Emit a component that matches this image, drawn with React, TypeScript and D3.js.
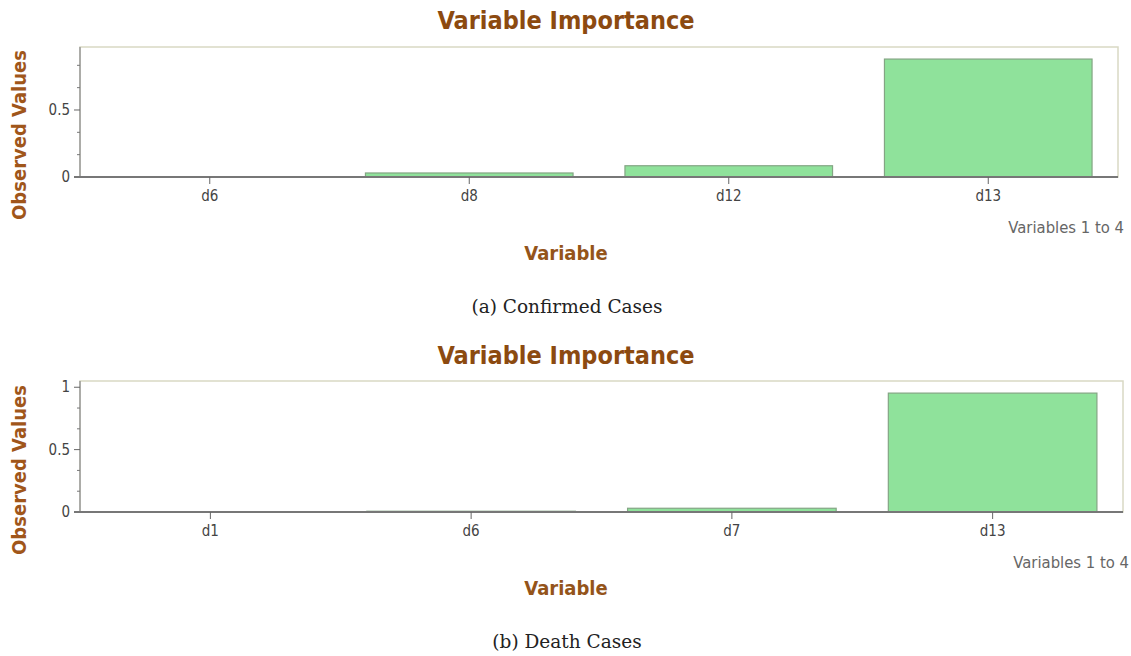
import React, { useEffect, useRef } from "react";
import * as d3 from "d3";

// Variable importance, confirmed cases
const confirmedVars = ["d6", "d8", "d12", "d13"];
const confirmedValues = [0.002, 0.03, 0.084, 0.88];

// Variable importance, death cases
const deathVars = ["d1", "d6", "d7", "d13"];
const deathValues = [0.001, 0.006, 0.03, 0.953];

const yMajorTicks = [0, 0.5, 1];

const TITLE = "Variable Importance";
const X_TITLE = "Variable";
const Y_TITLE = "Observed Values";
const FOOTNOTE = "Variables 1 to 4";

const BROWN = "#8c4a10";
const FONT = "'DejaVu Sans Condensed', 'DejaVu Sans', sans-serif";

type PanelSpec = {
  top: number;
  vars: string[];
  values: number[];
  yMax: number;
  plot: { left: number; right: number; top: number; bottom: number };
  caption: string;
};

const panels: PanelSpec[] = [
  {
    top: 0,
    vars: confirmedVars,
    values: confirmedValues,
    yMax: 0.97,
    plot: { left: 80, right: 1118, top: 47, bottom: 177 },
    caption: "(a) Confirmed Cases",
  },
  {
    top: 335,
    vars: deathVars,
    values: deathValues,
    yMax: 1.05,
    plot: { left: 80, right: 1123, top: 46, bottom: 177 },
    caption: "(b) Death Cases",
  },
];

function drawPanel(g: d3.Selection<SVGGElement, unknown, null, undefined>, p: PanelSpec) {
  const { left, right, top, bottom } = p.plot;
  const x = d3.scaleBand<string>().domain(p.vars).range([left, right]).paddingInner(0.2).paddingOuter(0.1);
  const y = d3.scaleLinear().domain([0, p.yMax]).range([bottom, top]);
  const cx = (v: string) => (x(v) as number) + x.bandwidth() / 2;

  // chart title
  g.append("text")
    .attr("x", 566)
    .attr("y", 29)
    .attr("text-anchor", "middle")
    .attr("font-family", FONT)
    .attr("font-weight", "bold")
    .attr("font-size", 25)
    .attr("fill", BROWN)
    .text(TITLE);

  // plot frame
  g.append("rect")
    .attr("x", left)
    .attr("y", top)
    .attr("width", right - left)
    .attr("height", bottom - top)
    .attr("fill", "#ffffff")
    .attr("stroke", "#d9d9c4")
    .attr("stroke-width", 1.5);

  // bars
  g.selectAll("rect.bar")
    .data(p.vars.map((v, i) => ({ v, val: p.values[i] })))
    .join("rect")
    .attr("class", "bar")
    .attr("x", (d) => x(d.v) as number)
    .attr("width", x.bandwidth())
    .attr("y", (d) => y(d.val))
    .attr("height", (d) => bottom - y(d.val))
    .attr("fill", "#8fe29b")
    .attr("stroke", "#84a584")
    .attr("stroke-width", 1.2);

  // y axis line
  g.append("line")
    .attr("x1", left)
    .attr("x2", left)
    .attr("y1", top)
    .attr("y2", bottom)
    .attr("stroke", "#9a9a9a")
    .attr("stroke-width", 1.5);

  // minor y ticks (thirds of each half unit)
  const minor = d3.range(0, p.yMax + 1e-9, 0.5 / 3).filter(
    (t) => !yMajorTicks.some((m) => Math.abs(m - t) < 1e-6)
  );
  g.selectAll("line.minor")
    .data(minor)
    .join("line")
    .attr("class", "minor")
    .attr("x1", left - 3)
    .attr("x2", left)
    .attr("y1", (d) => y(d))
    .attr("y2", (d) => y(d))
    .attr("stroke", "#777")
    .attr("stroke-width", 1);

  const majors = yMajorTicks.filter((t) => t <= p.yMax);
  g.selectAll("line.major")
    .data(majors)
    .join("line")
    .attr("class", "major")
    .attr("x1", left - 6)
    .attr("x2", left)
    .attr("y1", (d) => y(d))
    .attr("y2", (d) => y(d))
    .attr("stroke", "#666")
    .attr("stroke-width", 1);

  g.selectAll("text.ytick")
    .data(majors)
    .join("text")
    .attr("class", "ytick")
    .attr("x", left - 10)
    .attr("y", (d) => y(d))
    .attr("dy", "0.35em")
    .attr("text-anchor", "end")
    .attr("font-family", FONT)
    .attr("font-size", 15)
    .attr("fill", "#444")
    .text((d) => d3.format("~g")(d));

  // x axis baseline
  g.append("line")
    .attr("x1", left - 6)
    .attr("x2", right)
    .attr("y1", bottom)
    .attr("y2", bottom)
    .attr("stroke", "#777")
    .attr("stroke-width", 2.2);

  g.selectAll("line.xtick")
    .data(p.vars)
    .join("line")
    .attr("class", "xtick")
    .attr("x1", cx)
    .attr("x2", cx)
    .attr("y1", bottom)
    .attr("y2", bottom + 7)
    .attr("stroke", "#666");

  g.selectAll("text.xtick")
    .data(p.vars)
    .join("text")
    .attr("class", "xtick")
    .attr("x", cx)
    .attr("y", bottom + 24)
    .attr("text-anchor", "middle")
    .attr("font-family", FONT)
    .attr("font-size", 15)
    .attr("fill", "#444")
    .text((d) => d);

  // x axis title
  g.append("text")
    .attr("x", 566)
    .attr("y", bottom + 83)
    .attr("text-anchor", "middle")
    .attr("font-family", FONT)
    .attr("font-weight", "bold")
    .attr("font-size", 20)
    .attr("fill", "#94541a")
    .text(X_TITLE);

  // y axis title
  g.append("text")
    .attr("transform", `translate(26, ${bottom - 42}) rotate(-90)`)
    .attr("text-anchor", "middle")
    .attr("font-family", FONT)
    .attr("font-weight", "bold")
    .attr("font-size", 20)
    .attr("fill", "#a0561a")
    .text(Y_TITLE);

  // footnote
  g.append("text")
    .attr("x", right + 6)
    .attr("y", bottom + 56)
    .attr("text-anchor", "end")
    .attr("font-family", FONT)
    .attr("font-size", 16.5)
    .attr("fill", "#666")
    .text(FOOTNOTE);

  // caption
  g.append("text")
    .attr("x", 567)
    .attr("y", bottom + 136)
    .attr("text-anchor", "middle")
    .attr("font-family", "'DejaVu Serif', 'Liberation Serif', serif")
    .attr("font-size", 18.5)
    .attr("fill", "#222")
    .text(p.caption);
}

export default function App() {
  const ref = useRef<SVGSVGElement | null>(null);

  useEffect(() => {
    const svg = d3.select(ref.current);
    svg.selectAll("*").remove();
    panels.forEach((p) => {
      const g = svg.append("g").attr("transform", `translate(0, ${p.top})`) as d3.Selection<
        SVGGElement,
        unknown,
        null,
        undefined
      >;
      drawPanel(g, p);
    });
  }, []);

  return (
    <svg
      ref={ref}
      width={1131}
      height={656}
      style={{ position: "absolute", left: 0, top: 0, background: "#ffffff" }}
    />
  );
}
